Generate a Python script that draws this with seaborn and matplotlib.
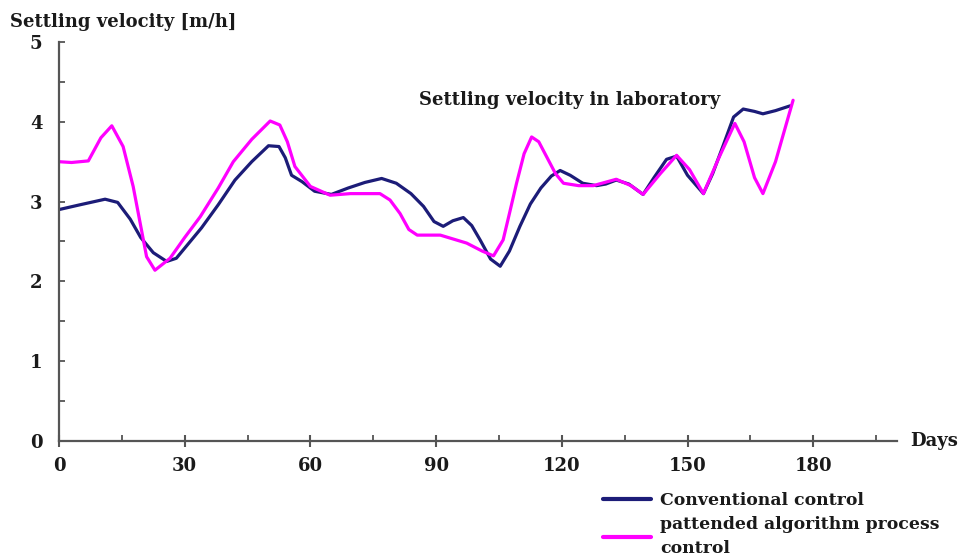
import numpy as np
import pandas as pd
import seaborn as sns
import matplotlib
matplotlib.use("Agg")
import matplotlib.pyplot as plt
from matplotlib.ticker import MultipleLocator

# ---------------- data ----------------
conv_days = [0, 5, 11, 14, 17, 19.5, 22.5, 25.7, 28, 31, 34, 38, 42, 46, 50, 52.5, 54, 55.5,
             58, 61, 65, 69, 73, 77, 80.5, 84, 87, 89.5, 91.7, 94, 96.5, 98.5, 100.5, 103,
             105.3, 107.5, 110, 112.5, 115, 117.5, 119.6, 122, 125, 128.3, 130.5, 133, 136,
             139.4, 142, 145, 147.4, 150, 153.8, 156, 158.5, 161, 163.3, 166, 168, 171, 174.5]
conv_vals = [2.90, 2.96, 3.03, 2.99, 2.78, 2.55, 2.36, 2.25, 2.29, 2.48, 2.67, 2.96, 3.27, 3.50,
             3.70, 3.69, 3.55, 3.33, 3.25, 3.13, 3.09, 3.17, 3.24, 3.29, 3.23, 3.10, 2.94, 2.75,
             2.69, 2.76, 2.80, 2.70, 2.52, 2.28, 2.19, 2.38, 2.69, 2.97, 3.17, 3.32, 3.39, 3.33,
             3.23, 3.20, 3.22, 3.27, 3.22, 3.09, 3.30, 3.53, 3.57, 3.33, 3.10, 3.35, 3.70, 4.06,
             4.16, 4.13, 4.10, 4.14, 4.20]

pat_days = [0, 3, 7, 10, 12.6, 15.3, 17.7, 20.9, 22.9, 26.5, 30, 33.7, 38, 41.6, 46, 50.4,
            52.7, 54.5, 56.3, 60, 64.7, 69.5, 76.6, 79, 81.4, 83.5, 85.5, 91, 97.3, 101, 103.7,
            106, 107.5, 109.2, 111, 112.8, 114.5, 116.4, 118.5, 120.4, 124, 127.5, 133, 136.5,
            139.4, 143.5, 147.4, 150.5, 153.8, 157.5, 161.3, 163.5, 166, 168, 171, 175.2]
pat_vals = [3.50, 3.49, 3.51, 3.80, 3.95, 3.69, 3.19, 2.31, 2.14, 2.29, 2.55, 2.81, 3.17, 3.50,
            3.78, 4.01, 3.96, 3.75, 3.44, 3.19, 3.08, 3.10, 3.10, 3.02, 2.85, 2.65, 2.58, 2.58,
            2.48, 2.38, 2.32, 2.52, 2.85, 3.23, 3.60, 3.81, 3.75, 3.56, 3.35, 3.23, 3.20, 3.20,
            3.28, 3.20, 3.09, 3.35, 3.58, 3.40, 3.10, 3.55, 3.98, 3.75, 3.30, 3.10, 3.50, 4.27]

series_names = ["Conventional control", "pattended algorithm process\ncontrol"]
x_ticks = [0, 30, 60, 90, 120, 150, 180]
y_ticks = [0, 1, 2, 3, 4, 5]
y_title = "Settling velocity [m/h]"
x_title = "Days"
note = "Settling velocity in laboratory"

df = pd.concat([
    pd.DataFrame({"day": conv_days, "v": conv_vals, "series": series_names[0]}),
    pd.DataFrame({"day": pat_days, "v": pat_vals, "series": series_names[1]}),
], ignore_index=True)

# ---------------- style ----------------
sns.set_theme(style="white")
plt.rcParams["font.family"] = ["DejaVu Serif", "Liberation Serif"]
plt.rcParams["font.weight"] = "bold"

W, H = 963, 560
fig = plt.figure(figsize=(W / 100, H / 100), dpi=100)
ax = fig.add_axes([59 / W, 119 / H, 838 / W, 399 / H])

palette = {series_names[0]: "#1c1c78", series_names[1]: "#ff00ff"}
sns.lineplot(data=df, x="day", y="v", hue="series", palette=palette, linewidth=2.3,
             ax=ax, sort=False, estimator=None)

ax.set_xlim(0, 200)
ax.set_ylim(0, 5)
ax.set_xticks(x_ticks)
ax.set_yticks(y_ticks)
ax.xaxis.set_minor_locator(MultipleLocator(15))
ax.yaxis.set_minor_locator(MultipleLocator(0.5))
ax.set_xlabel("")
ax.set_ylabel("")

for s in ["top", "right"]:
    ax.spines[s].set_visible(False)
for s in ["left", "bottom"]:
    ax.spines[s].set_color("#555555")
    ax.spines[s].set_linewidth(1.6)

tick_font = 13
ax.tick_params(axis="x", which="major", direction="inout", length=9, width=1.5,
               color="#555555", labelsize=tick_font, pad=7, bottom=True)
ax.tick_params(axis="x", which="minor", direction="in", length=4, width=1.3,
               color="#555555", bottom=True)
ax.tick_params(axis="y", which="major", direction="in", length=4, width=1.3,
               color="#555555", labelsize=tick_font, pad=12, left=True)
ax.tick_params(axis="y", which="minor", direction="in", length=4, width=1.3,
               color="#555555", left=True)
for lab in ax.get_xticklabels() + ax.get_yticklabels():
    lab.set_fontweight("bold")
    lab.set_color("#1a1a1a")

fs = 13
fig.text(10 / W, 1 - 22 / H, y_title, fontsize=fs, fontweight="bold", va="center", ha="left",
         color="#1a1a1a")
fig.text(910 / W, 1 - 441 / H, x_title, fontsize=fs, fontweight="bold", va="center", ha="left",
         color="#1a1a1a")
fig.text(570 / W, 1 - 100 / H, note, fontsize=fs, fontweight="bold", va="center", ha="center",
         color="#1a1a1a")

lfs = 12.4
handles, labels = ax.get_legend_handles_labels()
leg = ax.legend(handles, labels, loc="upper left", bbox_to_anchor=(594 / W, 1 - 483 / H),
                bbox_transform=fig.transFigure, frameon=False, fontsize=lfs,
                handlelength=2.8, handletextpad=0.55, labelspacing=0.45, borderpad=0)
for t in leg.get_texts():
    t.set_fontweight("bold")
    t.set_color("#1a1a1a")
    t.set_linespacing(1.5)
for l in leg.get_lines():
    l.set_linewidth(3)

fig.savefig("out.png", dpi=100)
